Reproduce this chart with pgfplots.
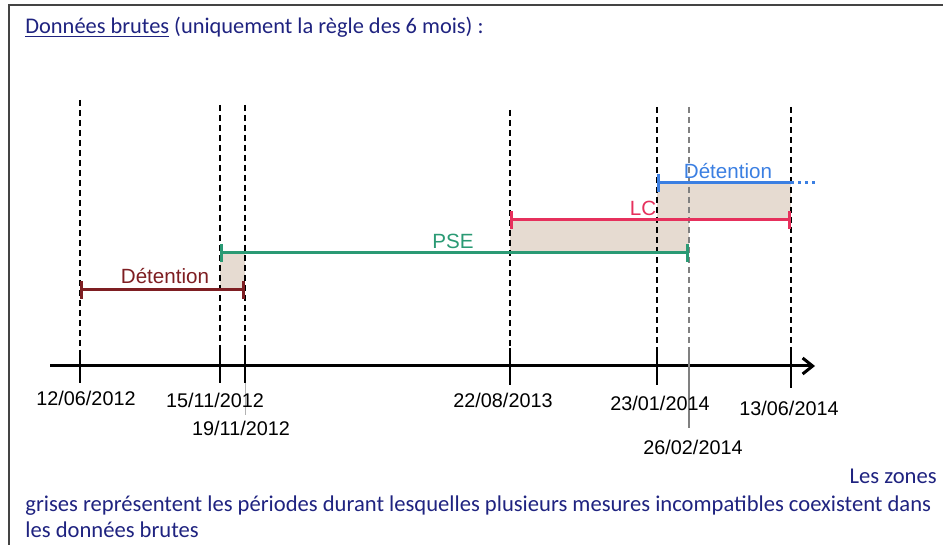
\documentclass[border=0pt]{standalone}
\usepackage{pgfplots}
\pgfplotsset{compat=1.18}
\usepackage{fontspec}
\setmainfont{Carlito}
\newfontfamily\helv{Liberation Sans}
\usetikzlibrary{arrows.meta}
\definecolor{navy}{HTML}{1F2380}
\definecolor{detred}{HTML}{7E1E22}
\definecolor{psegreen}{HTML}{2A9A74}
\definecolor{lcpink}{HTML}{E6305C}
\definecolor{detblue}{HTML}{3B7FE2}
\definecolor{zone}{HTML}{E6DBD1}
\definecolor{frame}{HTML}{444444}
\begin{document}
\begin{tikzpicture}
\begin{axis}[
  scale only axis, width=471.5pt, height=272.5pt,
  xmin=0, xmax=943, ymin=0, ymax=545, y dir=reverse,
  axis lines=none, clip=false,
]
% frame
\addplot[frame, line width=1.2pt] coordinates {(9,545) (9,5) (943,5)};
% grey zones
\addplot[fill=zone, draw=none] coordinates {(220,253) (245,253) (245,290) (220,290)} -- cycle;
\addplot[fill=zone, draw=none] coordinates {(510,220) (689,220) (689,253) (510,253)} -- cycle;
\addplot[fill=zone, draw=none] coordinates {(657,183) (791,183) (791,220) (657,220)} -- cycle;
% dashed verticals
\pgfplotsset{vdash/.style={black, line width=1.1pt, dash pattern=on 3pt off 2pt}}
\addplot[vdash] coordinates {(80,100) (80,350)};
\addplot[vdash] coordinates {(220,105) (220,350)};
\addplot[vdash] coordinates {(245,105) (245,350)};
\addplot[vdash] coordinates {(510,110) (510,350)};
\addplot[vdash] coordinates {(657,107) (657,350)};
\addplot[vdash, gray] coordinates {(689,107) (689,350)};
\addplot[vdash] coordinates {(791,107) (791,350)};
% axis
\addplot[black, line width=1.5pt, -{Straight Barb[length=5pt,width=8pt]}] coordinates {(50,366) (815,366)};
% ticks
\addplot[black, line width=1pt] coordinates {(80,350) (80,383)};
\addplot[black, line width=1pt] coordinates {(220,350) (220,383)};
\addplot[black, line width=1pt] coordinates {(245,350) (245,383)};
\addplot[black, line width=1pt] coordinates {(510,348) (510,385)};
\addplot[black, line width=1pt] coordinates {(657,348) (657,385)};
\addplot[gray, line width=0.8pt] coordinates {(689,348) (689,428)};
\addplot[black, line width=1.2pt] coordinates {(791,348) (791,388)};
\addplot[gray!60, line width=0.5pt] coordinates {(245,383) (245,415)};
% segments
\addplot[detred, line width=1.5pt, |-|] coordinates {(80,290) (245,290)};
\addplot[psegreen, line width=1.5pt, |-|] coordinates {(220,253) (689,253)};
\addplot[lcpink, line width=1.5pt, |-|] coordinates {(510,220) (791,220)};
\addplot[detblue, line width=1.5pt, |-] coordinates {(657,183) (791,183)};
\addplot[detblue, line width=1.5pt, dotted] coordinates {(791,183) (815,183)};
% segment labels
\node[detred, font=\helv\fontsize{10.3}{12}\selectfont] at (axis cs:165,276) {Détention};
\node[psegreen, font=\helv\fontsize{10.3}{12}\selectfont] at (axis cs:453,241) {PSE};
\node[lcpink, font=\helv\fontsize{10.3}{12}\selectfont] at (axis cs:643,208) {LC};
\node[detblue, font=\helv\fontsize{10.3}{12}\selectfont] at (axis cs:728,171) {Détention};
% dates
\node[font=\helv\fontsize{9.9}{11}\selectfont] at (axis cs:86,398) {12/06/2012};
\node[font=\helv\fontsize{9.9}{11}\selectfont] at (axis cs:215,400) {15/11/2012};
\node[font=\helv\fontsize{9.9}{11}\selectfont] at (axis cs:241,428) {19/11/2012};
\node[font=\helv\fontsize{9.9}{11}\selectfont] at (axis cs:503,400) {22/08/2013};
\node[font=\helv\fontsize{9.9}{11}\selectfont] at (axis cs:660,403) {23/01/2014};
\node[font=\helv\fontsize{9.9}{11}\selectfont] at (axis cs:789,408) {13/06/2014};
\node[font=\helv\fontsize{9.9}{11}\selectfont] at (axis cs:693,447) {26/02/2014};
% title
\node[navy, anchor=west, inner sep=0pt, font=\fontsize{11.2}{13}\selectfont] at (axis cs:25,27) {\underline{Données brutes} (uniquement la règle des 6 mois) :};
% bottom text
\node[navy, anchor=east, inner sep=0pt, font=\fontsize{11.3}{13}\selectfont] at (axis cs:937,476) {Les zones};
\node[navy, anchor=west, inner sep=0pt, font=\fontsize{11.3}{13}\selectfont] at (axis cs:25,506) {grises représentent les périodes durant lesquelles plusieurs mesures incompatibles coexistent dans};
\node[navy, anchor=west, inner sep=0pt, font=\fontsize{11.3}{13}\selectfont] at (axis cs:25,530) {les données brutes};
\end{axis}
\pgfresetboundingbox
\path (current axis.south west) rectangle (current axis.north east);
\end{tikzpicture}
\end{document}
